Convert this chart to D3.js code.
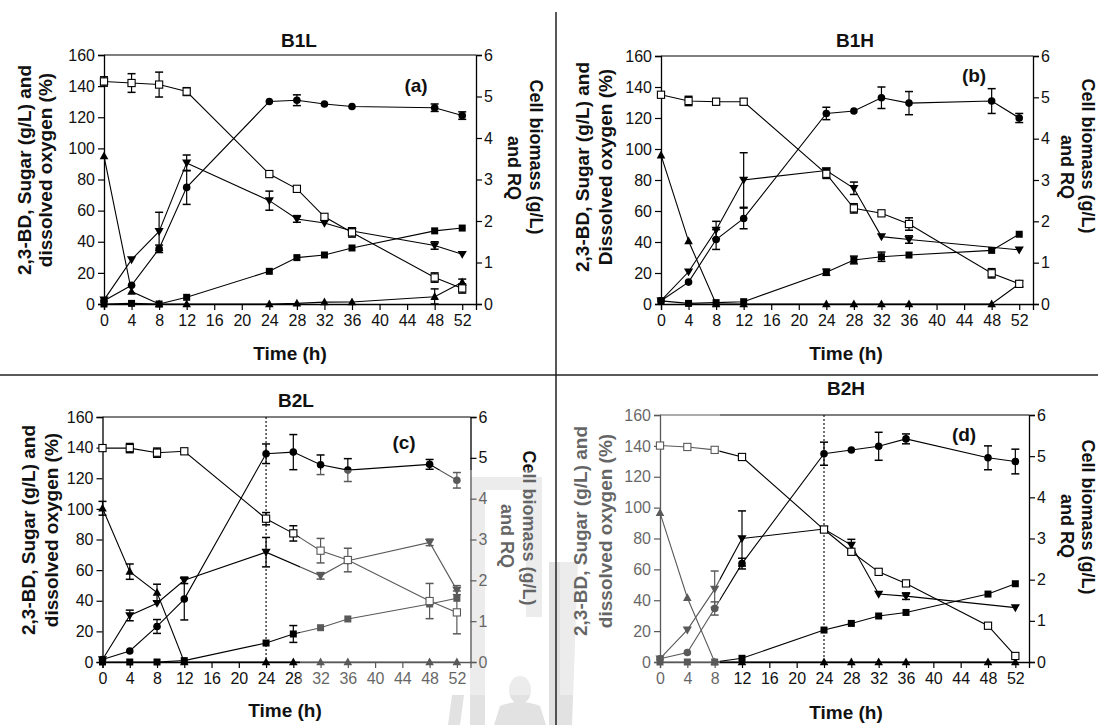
<!DOCTYPE html>
<html><head><meta charset="utf-8">
<script src="https://cdn.jsdelivr.net/npm/d3@7"></script>
<style>body{margin:0;background:#fff}svg{display:block}</style>
</head><body><svg id="chart" width="1098" height="725"></svg>
<script>
// ---------- shared categories / ticks ----------
const times = [0, 4, 8, 12, 24, 28, 32, 36, 48, 52];
const xTickValues = [0, 4, 8, 12, 16, 20, 24, 28, 32, 36, 40, 44, 48, 52];
const leftTickValues = [0, 20, 40, 60, 80, 100, 120, 140, 160];
const rightTickValues = [0, 1, 2, 3, 4, 5, 6];
const panelTitles = ["B1L", "B1H", "B2L", "B2H"];
const panelTags = ["(a)", "(b)", "(c)", "(d)"];
const leftTitles = [
  ["2,3-BD, Sugar (g/L) and", "dissolved oxygen (%)"],
  ["2,3-BD, Sugar (g/L) and", "Dissolved oxygen (%)"],
  ["2,3-BD, Sugar (g/L) and", "dissolved oxygen (%)"],
  ["2,3-BD, Sugar (g/L) and", "dissolved oxygen (%)"]
];
const rightTitle = ["Cell biomass (g/L)", "and RQ"];
const xTitle = "Time (h)";

// ---------- B1L (a) ----------
const sugarB1L      = [143, 142, 141, 136.5, 83.5, 74, 56, 46, 17, 10];
const sugarErrB1L   = [3, 6, 8, 2.5, 0, 0, 0, 3, 3, 3];
const bdB1L         = [0, 0.4, 0, 4.3, 21, 29.8, 31.5, 36, 47, 48.8];
const bdErrB1L      = [0, 0, 0, 0, 0, 0, 0, 0, 0, 0];
const doB1L         = [95, 8, 0, 0, 0, 0.4, 1.2, 1.3, 4.7, 14];
const doErrB1L      = [0, 0, 0, 0, 0, 0, 0, 0, 5, 2];
const biomassB1L    = [0.08, 0.45, 1.33, 2.81, 4.88, 4.91, 4.82, 4.76, 4.73, 4.54];
const biomassErrB1L = [0, 0, 0.09, 0.41, 0, 0.13, 0, 0, 0.09, 0.09];
const rqB1L         = [0.10, 1.07, 1.75, 3.40, 2.49, 2.05, 1.95, 1.76, 1.41, 1.20];
const rqErrB1L      = [0, 0, 0.46, 0.19, 0.23, 0.08, 0, 0, 0.09, 0];

// ---------- B1H (b) ----------
const sugarB1H      = [135, 131, 130.5, 130.5, 84, 61.7, 58.5, 51.6, 19.8, 13];
const sugarErrB1H   = [0, 3, 2, 2, 3, 3, 0, 4, 3, 0];
const bdB1H         = [2, 0.4, 0.9, 1.5, 20.5, 28.4, 30.5, 31.6, 34.6, 45];
const bdErrB1H      = [0, 0, 0, 0, 2, 2.5, 3, 0, 0, 0];
const doB1H         = [96, 40.6, 0, 0, 0, 0, 0, 0, 0, 13];
const doErrB1H      = [0, 0, 0, 0, 0, 0, 0, 0, 0, 2];
const biomassB1H    = [0.08, 0.53, 1.56, 2.07, 4.61, 4.67, 4.99, 4.86, 4.91, 4.50];
const biomassErrB1H = [0, 0, 0.24, 0.25, 0.15, 0, 0.26, 0.28, 0.30, 0.11];
const rqB1H         = [0.08, 0.78, 1.79, 3.00, 3.23, 2.80, 1.63, 1.56, null, 1.31];
const rqErrB1H      = [0, 0, 0.21, 0.66, 0.05, 0.15, 0, 0.09, 0, 0];

// ---------- B2L (c) ----------
const sugarB2L      = [139.7, 139.7, 136.7, 137.6, 93.6, 84, 72.7, 66.6, 39.8, 32.4];
const sugarErrB2L   = [0, 3, 3, 0, 4, 5, 8, 7.7, 11.5, 14];
const bdB2L         = [0, 0, 0, 0.9, 12.4, 18.3, 22.4, 28.1, 37.9, 41.6];
const bdErrB2L      = [0, 0, 0, 0, 0, 5.5, 0, 0, 0, 0];
const doB2L         = [100.4, 59, 45.3, 0, 0, 0, 0, 0, 0, 0];
const doErrB2L      = [4.5, 5, 5.5, 0, 0, 0, 0, 0, 0, 0];
const biomassB2L    = [0.06, 0.27, 0.87, 1.54, 5.10, 5.14, 4.83, 4.70, 4.84, 4.45];
const biomassErrB2L = [0, 0, 0.17, 0.51, 0.24, 0.43, 0.24, 0.28, 0.12, 0.19];
const rqB2L         = [0.06, 1.14, 1.44, 2.00, 2.69, null, 2.11, 2.48, 2.93, 1.76];
const rqErrB2L      = [0, 0.13, 0, 0.08, 0.36, 0, 0.08, 0, 0.08, 0.11];

// ---------- B2H (d) ----------
const sugarB2H      = [140.2, 139.3, 137.4, 132.8, 85.8, 71.4, 58.4, 50.9, 23.5, 3.9];
const sugarErrB2H   = [0, 0, 0, 0, 0, 0, 0, 0, 0, 0];
const bdB2H         = [0, 0, 0, 2.4, 20.7, 25, 29.8, 32.1, 44, 50.7];
const bdErrB2H      = [0, 0, 0, 0, 0, 0, 0, 0, 0, 0];
const doB2H         = [96.6, 41.6, 0, 0, 0, 0, 0, 0, 0, 0];
const doErrB2H      = [0, 0, 0, 0, 0, 0, 0, 0, 0, 0];
const biomassB2H    = [0.08, 0.23, 1.30, 2.39, 5.06, 5.15, 5.24, 5.42, 4.96, 4.87];
const biomassErrB2H = [0, 0, 0.16, 0.13, 0.28, 0, 0.34, 0.12, 0.29, 0.30];
const rqB2H         = [0.08, 0.78, 1.77, 3.00, 3.23, 2.84, 1.65, 1.60, null, 1.32];
const rqErrB2H      = [0, 0, 0.44, 0.67, 0, 0.14, 0, 0.08, 0, 0];

// ---------- build panel tables ----------
function mk(sugar, sugarErr, bd, bdErr, dO, doErr, bio, bioErr, rq, rqErr) {
  return [
    {axis: "L", sym: "up",     v: dO,    e: doErr},
    {axis: "L", sym: "square", v: bd,    e: bdErr},
    {axis: "R", sym: "down",   v: rq,    e: rqErr},
    {axis: "R", sym: "circle", v: bio,   e: bioErr},
    {axis: "L", sym: "open",   v: sugar, e: sugarErr}
  ];
}
const panelSeries = [
  mk(sugarB1L, sugarErrB1L, bdB1L, bdErrB1L, doB1L, doErrB1L, biomassB1L, biomassErrB1L, rqB1L, rqErrB1L),
  mk(sugarB1H, sugarErrB1H, bdB1H, bdErrB1H, doB1H, doErrB1H, biomassB1H, biomassErrB1H, rqB1H, rqErrB1H),
  mk(sugarB2L, sugarErrB2L, bdB2L, bdErrB2L, doB2L, doErrB2L, biomassB2L, biomassErrB2L, rqB2L, rqErrB2L),
  mk(sugarB2H, sugarErrB2H, bdB2H, bdErrB2H, doB2H, doErrB2H, biomassB2H, biomassErrB2H, rqB2H, rqErrB2H)
];

// ---------- layout (positions only) ----------
const layout = [
  {x: 104,   y: 55,  w: 372, h: 249, title: [299, 40], tag: [416, 85],  xt: [290, 353], lt: [24.5, 45.5, 170], rt: [536, 157, 514, 168], dotted: false},
  {x: 661,   y: 56,  w: 372, h: 248, title: [855, 40], tag: [974, 75],  xt: [846, 353], lt: [582, 605, 167],   rt: [1088, 156, 1067, 167], dotted: false},
  {x: 102.5, y: 417, w: 368, h: 245, title: [296, 400], tag: [404, 442], xt: [285, 710], lt: [28, 51, 530],    rt: [529, 528, 507, 536], dotted: true},
  {x: 660,   y: 415, w: 369, h: 247, title: [846, 388], tag: [964, 434], xt: [846, 712], lt: [580.5, 605, 531], rt: [1088, 517, 1067, 526], dotted: true}
];

const FONT = "'Liberation Sans', Arial, sans-serif";
const svg = d3.select("#chart");

// faint watermark shapes (behind)
const wm = svg.append("g").attr("fill", "#e2e2e2");
wm.append("rect").attr("x", 470).attr("y", 477).attr("width", 15).attr("height", 248);
wm.append("rect").attr("x", 470).attr("y", 477).attr("width", 72).attr("height", 13);
wm.append("rect").attr("x", 526).attr("y", 477).attr("width", 16).attr("height", 140);
wm.append("path").attr("d", "M452,695 L464,695 L460,725 L448,725 Z");
wm.append("ellipse").attr("cx", 520).attr("cy", 690).attr("rx", 11).attr("ry", 14);
wm.append("path").attr("d", "M500,706 Q520,698 540,706 L546,725 L494,725 Z");
wm.append("path").attr("d", "M549,562 L578,562 L572,725 L549,725 Z");

// separators
svg.append("line").attr("x1", 0).attr("x2", 1098).attr("y1", 375).attr("y2", 375)
  .attr("stroke", "#222").attr("stroke-width", 1.5);
svg.append("line").attr("x1", 556).attr("x2", 556).attr("y1", 12).attr("y2", 725)
  .attr("stroke", "#222").attr("stroke-width", 1.5);

function drawSym(g, type, x, y) {
  if (type === "circle") {
    g.append("circle").attr("cx", x).attr("cy", y).attr("r", 3.8).attr("fill", "#000");
  } else if (type === "square") {
    g.append("rect").attr("x", x - 3.5).attr("y", y - 3.5).attr("width", 7).attr("height", 7).attr("fill", "#000");
  } else if (type === "open") {
    g.append("rect").attr("x", x - 3.6).attr("y", y - 3.6).attr("width", 7.2).attr("height", 7.2)
      .attr("fill", "#fff").attr("stroke", "#000").attr("stroke-width", 1.1);
  } else if (type === "up") {
    g.append("path").attr("d", `M${x},${y - 4.6}L${x + 4.3},${y + 3.2}L${x - 4.3},${y + 3.2}Z`).attr("fill", "#000");
  } else if (type === "down") {
    g.append("path").attr("d", `M${x},${y + 4.6}L${x + 4.6},${y - 3.3}L${x - 4.6},${y - 3.3}Z`).attr("fill", "#000");
  }
}

layout.forEach((L, pi) => {
  const g = svg.append("g");
  const xs = d3.scaleLinear().domain([0, 54]).range([L.x, L.x + L.w]);
  const yl = d3.scaleLinear().domain([0, 160]).range([L.y + L.h, L.y]);
  const yr = d3.scaleLinear().domain([0, 6]).range([L.y + L.h, L.y]);

  g.append("line").attr("x1", L.x).attr("x2", L.x + L.w).attr("y1", L.y).attr("y2", L.y)
    .attr("stroke", "#000").attr("stroke-width", 1.2);

  const styleAxis = sel => {
    sel.selectAll("path").attr("stroke", "#000").attr("stroke-width", 1.3);
    sel.selectAll("line").attr("stroke", "#000").attr("stroke-width", 1.2);
    sel.selectAll("text").attr("font-family", FONT).attr("font-size", 16).attr("fill", "#111");
  };
  g.append("g").attr("transform", `translate(0,${L.y + L.h})`)
    .call(d3.axisBottom(xs).tickValues(xTickValues).tickFormat(d3.format("d")).tickSizeOuter(0).tickSize(6).tickPadding(5)).call(styleAxis);
  g.append("g").attr("transform", `translate(${L.x},0)`)
    .call(d3.axisLeft(yl).tickValues(leftTickValues).tickFormat(d3.format("d")).tickSizeOuter(0).tickSize(6).tickPadding(3)).call(styleAxis);
  g.append("g").attr("transform", `translate(${L.x + L.w},0)`)
    .call(d3.axisRight(yr).tickValues(rightTickValues).tickFormat(d3.format("d")).tickSizeOuter(0).tickSize(6).tickPadding(2)).call(styleAxis);

  if (L.dotted) {
    g.append("line").attr("x1", xs(24)).attr("x2", xs(24)).attr("y1", L.y).attr("y2", L.y + L.h)
      .attr("stroke", "#000").attr("stroke-width", 1.1).attr("stroke-dasharray", "2,2");
  }

  const series = panelSeries[pi];
  const yOf = s => (s.axis === "L" ? yl : yr);
  series.forEach(s => {
    const ys = yOf(s);
    const pts = times.map((t, i) => ({t, v: s.v[i]})).filter(d => d.v !== null);
    g.append("path").datum(pts)
      .attr("d", d3.line().x(d => xs(d.t)).y(d => ys(d.v)))
      .attr("fill", "none").attr("stroke", "#000").attr("stroke-width", 1.1);
  });
  series.forEach(s => {
    const ys = yOf(s);
    times.forEach((t, i) => {
      const v = s.v[i], e = s.e[i];
      if (v === null || !e) return;
      const x = xs(t), y1 = ys(v + e), y2 = ys(Math.max(0, v - e));
      g.append("line").attr("x1", x).attr("x2", x).attr("y1", y1).attr("y2", y2).attr("stroke", "#000").attr("stroke-width", 1.2);
      g.append("line").attr("x1", x - 4).attr("x2", x + 4).attr("y1", y1).attr("y2", y1).attr("stroke", "#000").attr("stroke-width", 1.5);
      g.append("line").attr("x1", x - 4).attr("x2", x + 4).attr("y1", y2).attr("y2", y2).attr("stroke", "#000").attr("stroke-width", 1.5);
    });
  });
  series.forEach(s => {
    const ys = yOf(s);
    times.forEach((t, i) => {
      const v = s.v[i];
      if (v === null) return;
      drawSym(g, s.sym, xs(t), ys(v));
    });
  });

  const txt = (x, y, str, size, bold, rot) => {
    const t = g.append("text").attr("x", 0).attr("y", 0)
      .attr("transform", `translate(${x},${y})` + (rot ? ` rotate(${rot})` : ""))
      .attr("text-anchor", "middle").attr("dominant-baseline", "central")
      .attr("font-family", FONT).attr("font-size", size).attr("fill", "#111").text(str);
    if (bold) t.attr("font-weight", "bold");
    return t;
  };
  txt(L.title[0], L.title[1], panelTitles[pi], 19, true, 0);
  txt(L.tag[0], L.tag[1], panelTags[pi], 19, true, 0);
  txt(L.xt[0], L.xt[1], xTitle, 19, true, 0);
  txt(L.lt[0], L.lt[2], leftTitles[pi][0], 19, true, -90);
  txt(L.lt[1], L.lt[2], leftTitles[pi][1], 19, true, -90);
  txt(L.rt[0], L.rt[1], rightTitle[0], 18, true, 90);
  txt(L.rt[2], L.rt[3], rightTitle[1], 18, true, 90);
});

// watermark fading overlay (lightens black marks underneath, as in the scan)
const fade = svg.append("g").attr("fill", "#fff").attr("opacity", 0.35);
fade.append("rect").attr("x", 300).attr("y", 470).attr("width", 249).attr("height", 225);
fade.append("rect").attr("x", 560).attr("y", 400).attr("width", 160).attr("height", 295);
</script>
</body></html>
